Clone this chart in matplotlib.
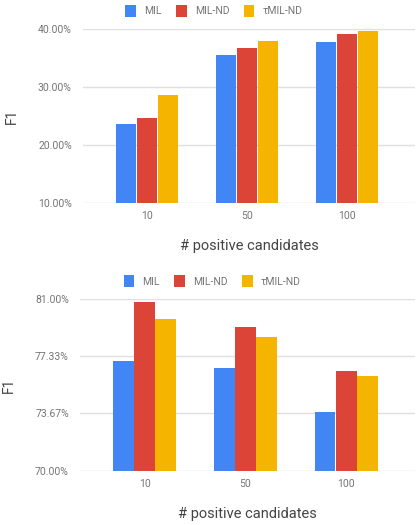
import numpy as np
import matplotlib.pyplot as plt
from matplotlib.ticker import FixedLocator

plt.rcParams['font.family'] = ['Roboto', 'DejaVu Sans']

categories = ['10', '50', '100']
series = ['MIL', 'MIL-ND', 'τMIL-ND']
colors = ['#4285F4', '#DB4437', '#F4B400']

# top panel (F1 in %)
top_vals = [
    [23.6, 35.5, 37.8],   # MIL
    [24.7, 36.8, 39.2],   # MIL-ND
    [28.7, 37.9, 39.65],  # tMIL-ND
]
top_ticks = [10.0, 20.0, 30.0, 40.0]

# bottom panel (F1 in %)
bot_vals = [
    [77.0, 76.55, 73.75],
    [80.8, 79.2, 76.4],
    [79.7, 78.55, 76.05],
]
bot_ticks = [70.0, 73.67, 77.33, 81.0]


def draw_panel(ax, vals, ticks, leg_y):
    x = np.arange(len(categories))
    w = 0.205
    for i, (name, v) in enumerate(zip(series, vals)):
        ax.bar(x + (i - 1) * 0.21, np.array(v) - ticks[0], w, bottom=ticks[0],
               color=colors[i], label=name, zorder=3)
    ax.set_ylim(ticks[0], ticks[-1])
    ax.set_xlim(-0.64, 2.68)
    ax.yaxis.set_major_locator(FixedLocator(ticks))
    ax.set_yticklabels(['%.2f%%' % t for t in ticks])
    ax.set_xticks(x)
    ax.set_xticklabels(categories)
    ax.grid(axis='y', color='#e0e0e0', linewidth=1, zorder=0)
    for s in ax.spines.values():
        s.set_visible(False)
    ax.tick_params(length=0, labelsize=7.5, labelcolor='#757575')
    ax.tick_params(axis='y', pad=8)
    ax.tick_params(axis='x', pad=6)
    ax.set_ylabel('F1', fontsize=10, color='#444444', labelpad=14)
    ax.set_xlabel('# positive candidates', fontsize=10.5, color='#444444', labelpad=13)
    ax.set_axisbelow(True)
    ax.legend(loc='lower center', bbox_to_anchor=(0.395, leg_y), ncol=3, frameon=False,
              fontsize=7.5, labelcolor='#757575', handlelength=1.0, handleheight=1.4,
              handletextpad=0.8, columnspacing=1.4, borderaxespad=0.0)


fig = plt.figure(figsize=(4.19, 5.25), dpi=100)
ax1 = fig.add_axes([0.198, 0.6133, 0.792, 0.3315])
ax2 = fig.add_axes([0.191, 0.1034, 0.799, 0.3271])
draw_panel(ax1, top_vals, top_ticks, 1.045)
draw_panel(ax2, bot_vals, bot_ticks, 1.045)

fig.savefig('out.png', dpi=100)
